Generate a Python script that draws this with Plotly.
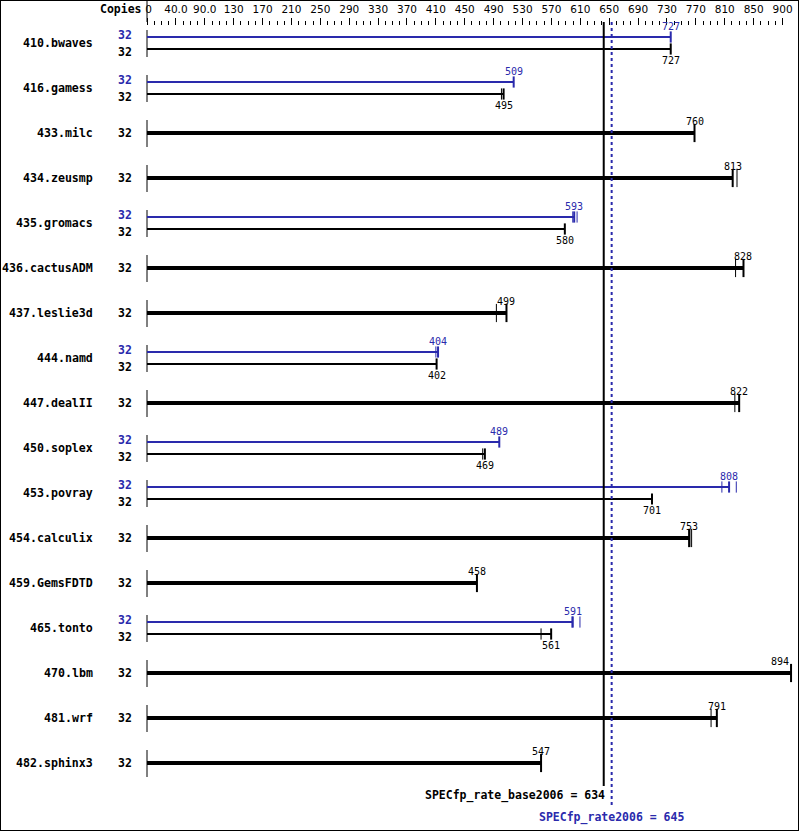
import plotly.graph_objects as go

# ---------------- data ----------------
names = ["410.bwaves", "416.gamess", "433.milc", "434.zeusmp", "435.gromacs",
         "436.cactusADM", "437.leslie3d", "444.namd", "447.dealII", "450.soplex",
         "453.povray", "454.calculix", "459.GemsFDTD", "465.tonto", "470.lbm",
         "481.wrf", "482.sphinx3"]
copies = [32] * 17
base = [727, 495, 760, 813, 580, 828, 499, 402, 822, 469, 701, 753, 458, 561, 894, 791, 547]
peak = [727, 509, None, None, 593, None, None, 404, None, 489, 808, None, None, 591, None, None, None]
# individual run values (ticks)
base_runs = [[727], [492, 495], [760], [813, 819], [580], [817, 828], [485, 499], [402],
             [816, 822], [466, 469], [701], [752, 756], [458], [547, 561], [894], [783, 791], [547]]
peak_runs = [[727], [509], None, None, [591, 597], None, None, [401, 404], None, [489],
             [798, 808, 818], None, None, [590, 601], None, None, None]

tick_labels = ["0", "40.0", "90.0", "130", "170", "210", "250", "290", "330", "370", "410",
               "450", "490", "530", "570", "610", "650", "690", "730", "770", "810", "850", "900"]
AXIS_STEP = 40.1

base_metric = 634
peak_metric = 645

# ---------------- style ----------------
BLUE = "#2a2aac"
FONT = "DejaVu Sans Mono"
W, H = 799, 831
X_RANGE = [-204.05, 905.05]
Y_RANGE = [17.511, -0.9556]   # row index, reversed
OFF = 0.1333
NAME_X = -72.2
COPIES_X = -30.5

fig = go.Figure()
ann = []


def tick_trace(runs, y, med, color, size):
    others = [r for r in runs if r != med]
    if others:
        fig.add_trace(go.Scatter(x=others, y=[y] * len(others), mode="markers",
                                 marker=dict(symbol="line-ns", size=size,
                                             line=dict(width=1, color=color)),
                                 hoverinfo="skip"))
    fig.add_trace(go.Scatter(x=[med], y=[y], mode="markers",
                             marker=dict(symbol="line-ns", size=size,
                                         line=dict(width=2, color=color)),
                             hoverinfo="skip"))


def val_anchor(v):
    return "right" if v > 880 else "center"


for i, name in enumerate(names):
    # left segment
    fig.add_trace(go.Scatter(x=[0, 0], y=[i - 0.289, i + 0.311], mode="lines",
                             line=dict(color="black", width=1), hoverinfo="skip"))
    ann.append(dict(x=NAME_X, y=i, text="<b>%s</b>" % name, showarrow=False,
                    xanchor="right", yanchor="middle",
                    font=dict(family=FONT, size=11.6, color="black")))
    if peak[i] is not None:
        yp, yb = i - OFF, i + OFF
        fig.add_trace(go.Scatter(x=[0, peak[i]], y=[yp, yp], mode="lines",
                                 line=dict(color=BLUE, width=2), hoverinfo="skip"))
        fig.add_trace(go.Scatter(x=[0, base[i]], y=[yb, yb], mode="lines",
                                 line=dict(color="black", width=2), hoverinfo="skip"))
        tick_trace(peak_runs[i], yp, peak[i], BLUE, 8)
        tick_trace(base_runs[i], yb, base[i], "black", 8)
        ann.append(dict(x=peak[i], y=i - 0.36, text=str(peak[i]), showarrow=False,
                        xanchor=val_anchor(peak[i]), yanchor="middle",
                        font=dict(family=FONT, size=10, color=BLUE)))
        ann.append(dict(x=base[i], y=i + 0.378, text=str(base[i]), showarrow=False,
                        xanchor=val_anchor(base[i]), yanchor="middle",
                        font=dict(family=FONT, size=10, color="black")))
        ann.append(dict(x=COPIES_X, y=i - 0.178, text="<b>%d</b>" % copies[i], showarrow=False,
                        xanchor="center", yanchor="middle",
                        font=dict(family=FONT, size=11.5, color=BLUE)))
        ann.append(dict(x=COPIES_X, y=i + 0.2, text="<b>%d</b>" % copies[i], showarrow=False,
                        xanchor="center", yanchor="middle",
                        font=dict(family=FONT, size=11.5, color="black")))
    else:
        fig.add_trace(go.Scatter(x=[0, base[i]], y=[i, i], mode="lines",
                                 line=dict(color="black", width=4), hoverinfo="skip"))
        tick_trace(base_runs[i], i, base[i], "black", 13)
        ann.append(dict(x=base[i], y=i - 0.25, text=str(base[i]), showarrow=False,
                        xanchor=val_anchor(base[i]), yanchor="middle",
                        font=dict(family=FONT, size=10, color="black")))
        ann.append(dict(x=COPIES_X, y=i, text="<b>%d</b>" % copies[i], showarrow=False,
                        xanchor="center", yanchor="middle",
                        font=dict(family=FONT, size=11.5, color="black")))

# metric lines
fig.add_trace(go.Scatter(x=[base_metric, base_metric], y=[-0.467, 16.51], mode="lines",
                         line=dict(color="black", width=2), hoverinfo="skip"))
fig.add_trace(go.Scatter(x=[peak_metric, peak_metric], y=[-0.467, 17.0], mode="lines",
                         line=dict(color=BLUE, width=2, dash="dot"), hoverinfo="skip"))
ann.append(dict(x=base_metric, y=16.73, text="<b>SPECfp_rate_base2006 = %d</b>" % base_metric,
                showarrow=False, xanchor="right", yanchor="middle", xshift=3,
                font=dict(family=FONT, size=11.5, color="black")))
ann.append(dict(x=peak_metric, y=17.2, text="<b>SPECfp_rate2006 = %d</b>" % peak_metric,
                showarrow=False, xanchor="center", yanchor="middle",
                font=dict(family=FONT, size=11.5, color=BLUE)))
# header
ann.append(dict(x=0, y=-0.75, text="<b>Copies</b>", showarrow=False, xanchor="right",
                yanchor="middle", xshift=-3, font=dict(family=FONT, size=11.5, color="black")))
fig.add_trace(go.Scatter(x=[0, 0], y=[-0.956, -0.467], mode="lines",
                         line=dict(color="black", width=1), hoverinfo="skip"))

major_vals = [k * AXIS_STEP for k in range(len(tick_labels))]
minor_vals = [k * AXIS_STEP / 4 for k in range(4 * (len(tick_labels) - 1) + 1) if k % 4]
ticktext = ["\u00a0" + t if t == "0" else t for t in tick_labels]

fig.update_layout(
    width=W, height=H, margin=dict(l=0, r=0, t=0, b=0),
    paper_bgcolor="white", plot_bgcolor="white", showlegend=False,
    annotations=ann,
    xaxis=dict(range=X_RANGE, side="top", anchor="free", position=1 - 25 / H,
               tickmode="array", tickvals=major_vals, ticktext=ticktext,
               ticks="outside", ticklen=7, tickwidth=1, tickcolor="black",
               ticklabelstandoff=1,
               showgrid=False, zeroline=False, showline=False,
               tickfont=dict(family="DejaVu Sans", size=10.5, color="black"),
               minor=dict(tickmode="array", tickvals=minor_vals, ticks="outside",
                          ticklen=4, tickwidth=1, tickcolor="black", showgrid=False)),
    yaxis=dict(range=Y_RANGE, visible=False, showgrid=False, zeroline=False),
    shapes=[dict(type="rect", xref="paper", yref="paper", x0=0, x1=1, y0=0, y1=1,
                 line=dict(color="black", width=2))],
)

fig.write_html("out.html", config={"displayModeBar": False, "staticPlot": True},
               post_script="document.body.style.margin='0';"
               "document.body.style.overflow='hidden';")
